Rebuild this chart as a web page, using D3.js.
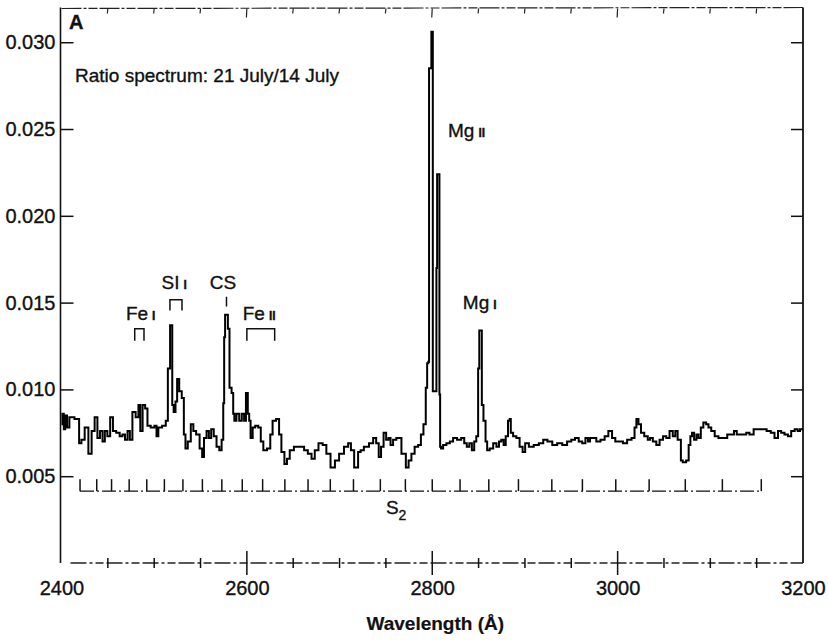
<!DOCTYPE html>
<html>
<head>
<meta charset="utf-8">
<script src="https://cdn.jsdelivr.net/npm/d3@7"></script>
<style>
  body { margin: 0; background: #fff; }
  text { font-family: "Liberation Sans", Arial, sans-serif; fill: #111; stroke: #111; stroke-width: 0.35px; }
</style>
</head>
<body>
<div id="chart"></div>
<script>
// Ratio spectrum, 21 July / 14 July
const wavelength = [
  2400, 2402, 2403, 2405, 2407, 2410, 2418, 2420, 2423, 2427, 2431, 2434, 2437.5, 2440, 2443, 2445.5,
  2448, 2451, 2454, 2457, 2461, 2464.5, 2467, 2470, 2472.5, 2475, 2478, 2482, 2484, 2486, 2489, 2491.5,
  2494, 2498.5, 2502, 2503, 2506, 2511, 2514, 2515.5, 2517, 2517.3, 2519, 2520, 2522, 2524, 2525.5, 2528.5,
  2531, 2533, 2534.5, 2538, 2541, 2543.5, 2547, 2551, 2552.5, 2555, 2558, 2560, 2563, 2565.5, 2569, 2571.5,
  2574, 2575, 2576, 2577, 2579, 2580, 2582.5, 2584.5, 2586, 2587, 2590.5, 2593, 2596, 2598, 2600, 2602,
  2603, 2605, 2607.5, 2610.5, 2614, 2616, 2619.5, 2624, 2626.5, 2629, 2634, 2635.5, 2639, 2642, 2644.5, 2648,
  2653.5, 2660, 2663.5, 2668, 2671.5, 2675, 2679.5, 2684, 2687.5, 2693, 2697, 2702, 2707.5, 2711, 2713.5, 2718,
  2722, 2723.5, 2729, 2734.5, 2738, 2741, 2743.5, 2746, 2749, 2751.5, 2754, 2756, 2759.5, 2763, 2766, 2767.5,
  2770, 2773, 2776, 2779, 2783, 2786.5, 2789, 2792, 2794, 2795, 2796.5, 2796.6, 2799, 2799.1, 2800.5, 2800.7,
  2804, 2805, 2805.5, 2807.5, 2808, 2809, 2810, 2813.5, 2817, 2821, 2824, 2829.5, 2833, 2836, 2838.5, 2841.5,
  2844, 2846.5, 2848.5, 2850.5, 2851, 2853, 2854, 2856.5, 2858.5, 2860, 2864, 2867.5, 2871, 2873, 2876, 2878,
  2880.5, 2883, 2884, 2885.5, 2889, 2892.5, 2896, 2899, 2901.5, 2907, 2912, 2918, 2921.5, 2927, 2932, 2937.5,
  2943, 2948, 2952, 2956, 2960, 2963.5, 2967, 2969, 2971.5, 2975, 2979, 2984, 2988, 2992, 2996, 2999,
  3004, 3007.5, 3013, 3017, 3019.5, 3021, 3024, 3026.5, 3031, 3034, 3036, 3040, 3043.5, 3047, 3051, 3054,
  3058, 3061, 3063.5, 3066, 3068, 3068.5, 3072, 3075.8, 3077.5, 3079.5, 3081, 3084, 3086, 3088.5, 3091, 3094,
  3097, 3099, 3103, 3106.5, 3111, 3115.5, 3121, 3124, 3127, 3130, 3133, 3137, 3140.5, 3144, 3149.5, 3153,
  3158.5, 3163, 3167.5, 3171, 3175, 3178, 3182, 3185.5, 3189, 3193, 3195.5, 3198, 3200
]
const ratio = [
  0.0080, 0.0086, 0.0077, 0.0085, 0.0078, 0.0084, 0.0083, 0.0069, 0.0071, 0.0078, 0.0063, 0.0076, 0.0084, 0.0072, 0.0076, 0.0070,
  0.0076, 0.0073, 0.0084, 0.0076, 0.0075, 0.0073, 0.0074, 0.0071, 0.0076, 0.0071, 0.0087, 0.0084, 0.0091, 0.0076, 0.0091, 0.0089,
  0.0079, 0.0078, 0.0079, 0.0073, 0.0078, 0.0079, 0.0082, 0.0112, 0.0112, 0.0137, 0.0137, 0.0091, 0.0087, 0.0093, 0.0106, 0.0099,
  0.0095, 0.0074, 0.0066, 0.0070, 0.0080, 0.0076, 0.0074, 0.0066, 0.0061, 0.0072, 0.0076, 0.0072, 0.0077, 0.0073, 0.0067, 0.0065,
  0.0071, 0.0092, 0.0130, 0.0143, 0.0143, 0.0135, 0.0101, 0.0098, 0.0086, 0.0082, 0.0086, 0.0082, 0.0086, 0.0082, 0.0098, 0.0086,
  0.0082, 0.0072, 0.0078, 0.0079, 0.0078, 0.0070, 0.0065, 0.0066, 0.0074, 0.0082, 0.0083, 0.0074, 0.0064, 0.0057, 0.0060, 0.0065,
  0.0067, 0.0067, 0.0065, 0.0063, 0.0060, 0.0065, 0.0069, 0.0068, 0.0063, 0.0055, 0.0059, 0.0063, 0.0067, 0.0069, 0.0065, 0.0055,
  0.0064, 0.0065, 0.0067, 0.0069, 0.0072, 0.0069, 0.0061, 0.0067, 0.0075, 0.0071, 0.0072, 0.0068, 0.0071, 0.0072, 0.0072, 0.0063,
  0.0063, 0.0055, 0.0059, 0.0063, 0.0067, 0.0068, 0.0074, 0.0080, 0.0101, 0.0115, 0.0116, 0.0285, 0.0285, 0.0306, 0.0306, 0.0099,
  0.0099, 0.0170, 0.0224, 0.0224, 0.0097, 0.0067, 0.0066, 0.0068, 0.0069, 0.0070, 0.0072, 0.0071, 0.0072, 0.0069, 0.0067, 0.0069,
  0.0065, 0.0070, 0.0073, 0.0112, 0.0134, 0.0134, 0.0091, 0.0082, 0.0070, 0.0065, 0.0066, 0.0069, 0.0067, 0.0070, 0.0071, 0.0068,
  0.0073, 0.0082, 0.0083, 0.0075, 0.0073, 0.0072, 0.0067, 0.0064, 0.0069, 0.0067, 0.0068, 0.0069, 0.0071, 0.0070, 0.0068, 0.0069,
  0.0068, 0.0070, 0.0071, 0.0072, 0.0070, 0.0069, 0.0072, 0.0070, 0.0072, 0.0072, 0.0070, 0.0071, 0.0073, 0.0076, 0.0072, 0.0070,
  0.0070, 0.0069, 0.0071, 0.0072, 0.0078, 0.0083, 0.0080, 0.0075, 0.0073, 0.0071, 0.0072, 0.0070, 0.0068, 0.0071, 0.0073, 0.0072,
  0.0076, 0.0073, 0.0076, 0.0071, 0.0071, 0.0059, 0.0058, 0.0059, 0.0068, 0.0073, 0.0075, 0.0071, 0.0074, 0.0072, 0.0078, 0.0081,
  0.0080, 0.0078, 0.0076, 0.0073, 0.0072, 0.0072, 0.0074, 0.0074, 0.0076, 0.0074, 0.0074, 0.0074, 0.0075, 0.0074, 0.0077, 0.0077,
  0.0077, 0.0076, 0.0075, 0.0072, 0.0076, 0.0075, 0.0074, 0.0073, 0.0076, 0.0077, 0.0076, 0.0077, 0.0077
]

const xTicks = [2400, 2600, 2800, 3000, 3200]
const xMinorStep = 50
const yTicks = [0.005, 0.010, 0.015, 0.020, 0.025, 0.030]

// S2 band heads (comb under the spectrum)
const s2Heads = [2420, 2438, 2454, 2473, 2492, 2511, 2531, 2552, 2573, 2595, 2617, 2641, 2666, 2690,
  2715, 2744, 2771, 2800, 2830, 2861, 2893, 2929, 2962, 2998, 3034, 3073, 3113, 3155]
const s2Level = [0.00414, 0.00483]

// line identifications
const lineNames = ['Fe', 'SI', 'CS', 'Fe', 'Mg', 'Mg']
const lineIons = ['I', 'I', '', 'II', 'II', 'I']
const lineLabelWl = [2469.5, 2508, 2560, 2595.5, 2817, 2833]
const lineLabelVal = [0.01397, 0.0158, 0.0158, 0.01397, 0.02454, 0.01465]

const markFrom = [2479, 2517, 2578, 2600]
const markTo = [2489, 2530, 2578, 2630]
const markTop = [0.0135, 0.01517, 0.01534, 0.0135]
const markBottom = [0.0128, 0.01454, 0.01477, 0.0128]

const width = 828
const height = 640

const svg = d3.select('#chart')
  .append('svg')
  .attr('width', width)
  .attr('height', height)

const x = d3.scaleLinear().domain([2400, 3200]).range([61.5, 803])
const y = d3.scaleLinear().domain([0, 0.032]).range([563, 7.5])

// frame: solid left/right, dashed top and bottom
svg.append('line')
  .attr('x1', x(2400) - 1).attr('x2', x(2400) - 1)
  .attr('y1', y.range()[1]).attr('y2', y(0))
  .attr('stroke', '#111').attr('stroke-width', 1.6)

svg.append('line')
  .attr('x1', x(3200)).attr('x2', x(3200))
  .attr('y1', y.range()[1]).attr('y2', y(0))
  .attr('stroke', '#111').attr('stroke-width', 1.8)

svg.append('line')
  .attr('x1', x(2400)).attr('x2', x(3200))
  .attr('y1', y.range()[1] + 1).attr('y2', y.range()[1])
  .attr('stroke', '#222').attr('stroke-width', 1.2)
  .attr('stroke-dasharray', '20,2,3,2,9,2')

svg.append('line')
  .attr('x1', x(2400) + 9).attr('x2', x(3200))
  .attr('y1', y(0)).attr('y2', y(0))
  .attr('stroke', '#222').attr('stroke-width', 1.3)
  .attr('stroke-dasharray', '16,3,3,3,8,3')

// minor/major ticks on top and bottom
const allX = d3.range(2450, 3200, xMinorStep)
svg.append('g')
  .selectAll('line')
  .data(allX)
  .join('line')
  .attr('x1', d => x(d)).attr('x2', d => x(d))
  .attr('y1', d => y(0) - (xTicks.includes(d) ? 12 : 5))
  .attr('y2', d => y(0) + (xTicks.includes(d) ? 12 : 5))
  .attr('stroke', '#111').attr('stroke-width', 1.5)

svg.append('g')
  .selectAll('line')
  .data(allX)
  .join('line')
  .attr('x1', d => x(d)).attr('x2', d => x(d) - 0.5)
  .attr('y1', y.range()[1] + 1)
  .attr('y2', d => y.range()[1] + (xTicks.includes(d) ? 10 : 6))
  .attr('stroke', '#222').attr('stroke-width', 1.2)

// x labels
svg.append('g')
  .attr('transform', `translate(0,${y(0)})`)
  .call(d3.axisBottom(x).tickValues(xTicks).tickSize(0).tickPadding(18).tickFormat(d3.format('d')))
  .call(g => g.select('.domain').remove())
  .call(g => g.selectAll('text').style('font-size', '20px').attr('fill', '#111'))

// y axis (left) with inward ticks
svg.append('g')
  .attr('transform', `translate(${x(2400) - 1},0)`)
  .call(d3.axisLeft(y).tickValues(yTicks).tickSize(-13).tickPadding(5).tickFormat(d3.format('.3f')))
  .call(g => g.select('.domain').remove())
  .call(g => g.selectAll('line').attr('stroke', '#111').attr('stroke-width', 1.5))
  .call(g => g.selectAll('text').style('font-size', '20px').attr('fill', '#111'))

// right axis ticks
svg.append('g')
  .attr('transform', `translate(${x(3200)},0)`)
  .call(d3.axisRight(y).tickValues(yTicks).tickSize(-12).tickFormat(''))
  .call(g => g.select('.domain').remove())
  .call(g => g.selectAll('line').attr('stroke', '#111').attr('stroke-width', 1.5))

// axis title
svg.append('text')
  .attr('x', (x(2400) + x(3200)) / 2 + 3)
  .attr('y', 630)
  .attr('text-anchor', 'middle')
  .style('font-size', '19px')
  .style('font-weight', 'bold')
  .style('stroke-width', '0.2px')
  .text('Wavelength (Å)')

// panel letter and title
svg.append('text')
  .attr('x', 69).attr('y', 29)
  .style('font-size', '20px').style('font-weight', 'bold')
  .text('A')

svg.append('text')
  .attr('x', 75).attr('y', 82)
  .style('font-size', '19px')
  .text('Ratio spectrum: 21 July/14 July')

// S2 comb
svg.append('line')
  .attr('x1', x(s2Heads[0])).attr('x2', x(s2Heads[s2Heads.length - 1]))
  .attr('y1', y(s2Level[0])).attr('y2', y(s2Level[0]))
  .attr('stroke', '#111').attr('stroke-width', 1.4)
  .attr('stroke-dasharray', '14,3,2,3')

svg.append('g')
  .selectAll('line')
  .data(s2Heads)
  .join('line')
  .attr('x1', d => x(d)).attr('x2', d => x(d))
  .attr('y1', y(s2Level[0])).attr('y2', y(s2Level[1]))
  .attr('stroke', '#111').attr('stroke-width', 1.5)

const s2Text = svg.append('text')
  .attr('x', x(2750)).attr('y', y(0.0028))
  .style('font-size', '19px')
s2Text.append('tspan').text('S')
s2Text.append('tspan').attr('dy', 6).style('font-size', '14px').text('2')

// spectrum, drawn as a stepped trace like the original plotter output
const pts = wavelength.map((w, i) => [w, ratio[i]])
svg.append('path')
  .datum(pts)
  .attr('fill', 'none')
  .attr('stroke', '#000')
  .attr('stroke-width', 2)
  .attr('stroke-linejoin', 'miter')
  .attr('d', d3.line().curve(d3.curveStep).x(d => x(d[0])).y(d => y(d[1])))

// identification brackets
svg.append('g')
  .selectAll('path')
  .data(markFrom.map((f, i) => i))
  .join('path')
  .attr('fill', 'none')
  .attr('stroke', '#111')
  .attr('stroke-width', 1.5)
  .attr('d', i => `M${x(markFrom[i])},${y(markBottom[i])}V${y(markTop[i])}H${x(markTo[i])}V${y(markBottom[i])}`)

const lab = svg.append('g')
  .selectAll('text')
  .data(lineNames.map((n, i) => i))
  .join('text')
  .attr('x', i => x(lineLabelWl[i]))
  .attr('y', i => y(lineLabelVal[i]))
  .style('font-size', '19px')
lab.append('tspan').text(i => lineNames[i])
lab.append('tspan')
  .attr('dx', 4)
  .style('font-size', '12px')
  .style('font-weight', 'bold')
  .text(i => lineIons[i])
</script>
</body>
</html>
